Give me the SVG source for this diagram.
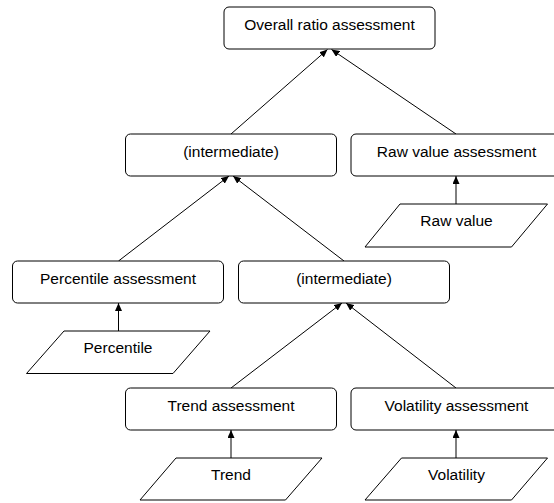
<svg xmlns="http://www.w3.org/2000/svg" width="554" height="503" viewBox="0 0 554 503">
<style>
.box{fill:#fff;stroke:#000;stroke-width:1}
.para{fill:#fff;stroke:#000;stroke-width:1}
.lbl{font-family:"Liberation Sans",Arial,sans-serif;font-size:15.5px;fill:#000;text-anchor:middle}
.edge{stroke:#000;stroke-width:1;fill:none;marker-end:url(#arr)}
</style>
<defs>
<marker id="arr" markerWidth="8" markerHeight="7" refX="8" refY="3.5" orient="auto" markerUnits="userSpaceOnUse">
<path d="M0,0 L8,3.5 L0,7 z" fill="#000"/>
</marker>
</defs>
<rect width="554" height="503" fill="#fff"/>
<g id="connectors">
<line class="edge" x1="231" y1="134" x2="327.5" y2="49.5"/>
<line class="edge" x1="456" y1="134" x2="331.5" y2="49.5"/>
<line class="edge" x1="118.5" y1="261" x2="229" y2="176"/>
<line class="edge" x1="344" y1="261" x2="233" y2="176"/>
<line class="edge" x1="231" y1="388" x2="342" y2="303"/>
<line class="edge" x1="456" y1="388" x2="346" y2="303"/>
<line class="edge" x1="456" y1="204" x2="456" y2="176"/>
<line class="edge" x1="118.5" y1="331" x2="118.5" y2="303"/>
<line class="edge" x1="231" y1="458" x2="231" y2="430"/>
<line class="edge" x1="456" y1="458" x2="456" y2="430"/>
</g>
<g id="overall">
<rect class="box" x="224" y="7" width="211" height="42" rx="5"/>
<text class="lbl" x="329.5" y="29.5">Overall ratio assessment</text>
</g>
<g id="intermediate1">
<rect class="box" x="125.5" y="134" width="211" height="42" rx="5"/>
<text class="lbl" x="231" y="157">(intermediate)</text>
</g>
<g id="rawAssessment">
<rect class="box" x="351" y="134" width="211" height="42" rx="5"/>
<text class="lbl" x="456.5" y="157">Raw value assessment</text>
</g>
<g id="rawValue">
<polygon class="para" points="400,204 547.5,204 511.5,247 365,247"/>
<text class="lbl" x="456.5" y="225.5">Raw value</text>
</g>
<g id="percentileAssessment">
<rect class="box" x="12.5" y="261" width="211" height="42" rx="5"/>
<text class="lbl" x="118" y="284">Percentile assessment</text>
</g>
<g id="intermediate2">
<rect class="box" x="238.5" y="261" width="211" height="42" rx="5"/>
<text class="lbl" x="344" y="284">(intermediate)</text>
</g>
<g id="percentile">
<polygon class="para" points="64,331 210,331 173,373.5 26.5,373.5"/>
<text class="lbl" x="118" y="352.5">Percentile</text>
</g>
<g id="trendAssessment">
<rect class="box" x="125.5" y="388" width="211" height="42" rx="5"/>
<text class="lbl" x="231" y="411">Trend assessment</text>
</g>
<g id="volatilityAssessment">
<rect class="box" x="351" y="388" width="211" height="42" rx="5"/>
<text class="lbl" x="456.5" y="411">Volatility assessment</text>
</g>
<g id="trend">
<polygon class="para" points="176,458 322,458 285.5,500 140,500"/>
<text class="lbl" x="231" y="479.5">Trend</text>
</g>
<g id="volatility">
<polygon class="para" points="401.5,458 547.5,458 511.5,500 365,500"/>
<text class="lbl" x="456.5" y="479.5">Volatility</text>
</g>
</svg>
